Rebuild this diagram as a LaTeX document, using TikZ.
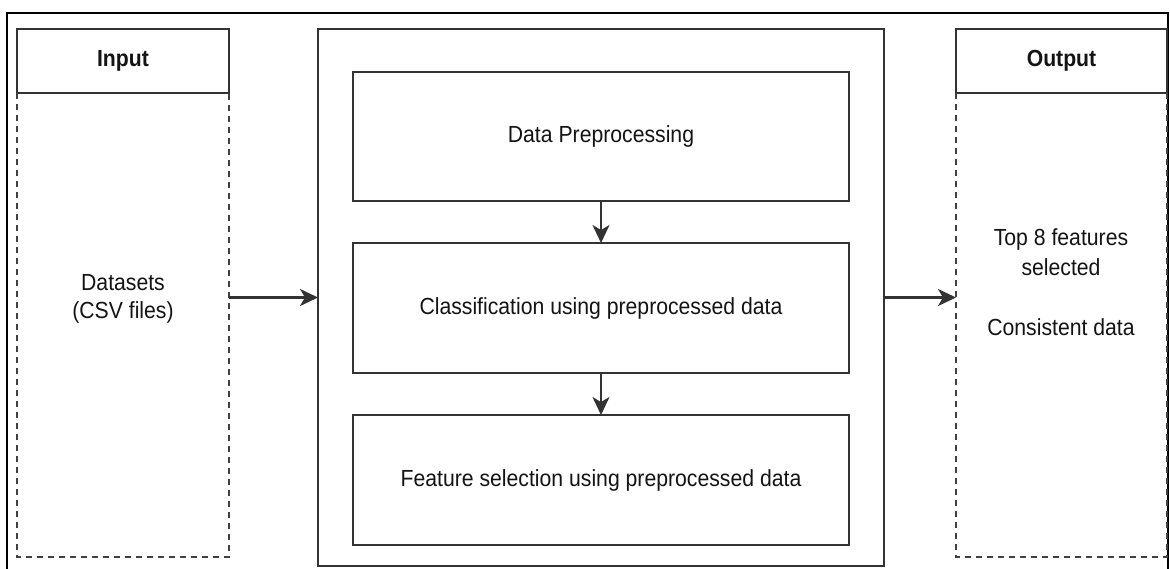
\documentclass[tikz,border=0pt]{standalone}
\usepackage{fontspec}
\setmainfont{Liberation Sans}[FakeStretch=0.91]
\usetikzlibrary{arrows.meta}
\begin{document}
\begin{tikzpicture}[x=1pt,y=-1pt,
  box/.style={draw=black!80,line width=2.2pt,outer sep=0pt,inner sep=0pt,
    font=\fontsize{23.3}{30}\selectfont,text=black!92},
  dbox/.style={draw=black!75,line width=2.2pt,dash pattern=on 6pt off 5pt},
  arr/.style={draw=black!80,line width=2.2pt,-{Stealth[length=18pt,width=17pt,inset=5pt]}},
  lbl/.style={font=\fontsize{23.3}{30}\selectfont,inner sep=0pt,text=black!92},
  hd/.style={font=\bfseries\fontsize{23.3}{30}\selectfont}]
\useasboundingbox (0,0) rectangle (1170,568);
\fill[white] (0,0) rectangle (1170,568);
\draw[line width=2.4pt] (7,13) rectangle (1168,590);

% input column
\node[box,hd,minimum width=212pt,minimum height=64pt] (inhead) at (123,61) {Input};
\node[minimum width=212pt,minimum height=464pt,inner sep=0pt,outer sep=0pt] (inbody) at (123,325) {};
\draw[dbox] (inbody.north west) -- (inbody.south west) -- (inbody.south east) -- (inbody.north east);
\node[lbl,anchor=base] (ds1) at (123,290) {Datasets};
\node[lbl,anchor=base] (ds2) at (123,318) {(CSV files)};

% output column
\node[box,hd,minimum width=211pt,minimum height=64pt] (outhead) at (1061.5,61) {Output};
\node[minimum width=211pt,minimum height=464pt,inner sep=0pt,outer sep=0pt] (outbody) at (1061.5,325) {};
\draw[dbox] (outbody.north west) -- (outbody.south west) -- (outbody.south east) -- (outbody.north east);
\node[lbl,anchor=base] (o1) at (1061,245) {Top 8 features};
\node[lbl,anchor=base] (o2) at (1061,275) {selected};
\node[lbl,anchor=base] (o3) at (1061,335) {Consistent data};

% middle
\node[box,minimum width=566pt,minimum height=537pt] (mid) at (601,297.5) {};
\node[box,minimum width=496pt,minimum height=129pt] (b1) at (601,136.5) {Data Preprocessing};
\node[box,minimum width=496pt,minimum height=130pt] (b2) at (601,308) {Classification using preprocessed data};
\node[box,minimum width=496pt,minimum height=130pt] (b3) at (601,480) {Feature selection using preprocessed data};

% connectors
\draw[arr] (b1.south) -- (b2.north);
\draw[arr] (b2.south) -- (b3.north);
\draw[arr] (inbody.east |- mid.west) -- (mid.west);
\draw[arr] (mid.east) -- (outbody.west |- mid.east);
\end{tikzpicture}
\end{document}
